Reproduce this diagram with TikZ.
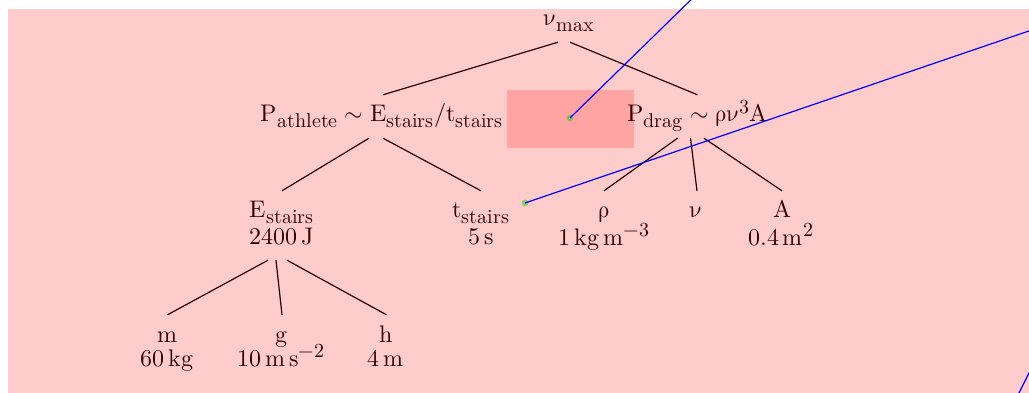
\documentclass[tikz,border=0pt]{standalone}
\usepackage[math-style=upright]{unicode-math}
\DeclareMathSizes{24}{24}{20}{16}
\usetikzlibrary{calc}

\definecolor{bgpink}{RGB}{255,204,204}
\definecolor{boxpink}{RGB}{255,163,163}
\definecolor{inkc}{RGB}{50,3,3}
\definecolor{edgec}{RGB}{40,0,0}
\definecolor{dotc}{RGB}{60,200,40}

\tikzset{
  lbl/.style={anchor=base, inner sep=0pt, text=inkc, font=\fontsize{24}{28}\selectfont},
  % a quantity with edges above and below it
  term/.style={lbl, text height=27pt, text depth=16pt},
  % a quantity name with its value set underneath
  qname/.style={lbl, text height=27pt, text depth=5pt},
  % the value line under a quantity name
  qval/.style={lbl, text height=12pt, text depth=16pt},
  edge/.style={draw=edgec, line width=1.2pt},
  probe/.style={circle, fill=dotc, fill opacity=0.55, inner sep=0pt, minimum size=7pt},
  ray/.style={draw=blue, line width=1.2pt}
}

\begin{document}
\begin{tikzpicture}[x=1pt, y=-1pt]
  \useasboundingbox (0,0) rectangle (1029,393);
  \clip (0,0) rectangle (1029,393);
  \fill[white] (0,0) rectangle (1029,393);
  \fill[bgpink] (8,9) rectangle (1029,393);
  \fill[boxpink] (507,90) rectangle (634,148);

  % quantities
  \node[term] (vmax) at (570,26) {$\nu_{max}$};
  \node[term] (Pa) at (382,122) {$P_{athlete} \sim E_{stairs}/t_{stairs}$};
  \node[term] (Pd) at (697.5,122) {$P_{drag} \sim \rho\nu^3 A$};
  \node[qname] (E) at (282,218) {$E_{stairs}$};
  \node[qval] (Ev) at (282,244) {$2400\,J$};
  \node[qname] (t) at (481,218) {$t_{stairs}$};
  \node[qval] (tv) at (481,244) {$5\,s$};
  \node[qname] (rho) at (604,218) {$\rho$};
  \node[qval] (rhov) at (604,245) {$1\,kg\,m^{-3}$};
  \node[term] (nu) at (697,218) {$\nu$};
  \node[qname] (A) at (782,218) {$A$};
  \node[qval] (Av) at (781,245) {$0.4\,m^{2}$};
  \node[qname] (m) at (167.5,342) {$m$};
  \node[qval] (mv) at (167.5,366) {$60\,kg$};
  \node[qname] (g) at (282,342) {$g$};
  \node[qval] (gv) at (281,366) {$10\,m\,s^{-2}$};
  \node[qname] (h) at (386.5,342) {$h$};
  \node[qval] (hv) at (385.5,366) {$4\,m$};

  % tree edges
  \draw[edge] ([xshift=-12pt]vmax.south) -- ([xshift=1pt]Pa.north);
  \draw[edge] (vmax.south) -- (Pd.north);
  \draw[edge] ([xshift=-13pt]Pa.south) -- (E.north);
  \draw[edge] ([xshift=1pt]Pa.south) -- (t.north);
  \draw[edge] ([xshift=-20pt]Pd.south) -- (rho.north);
  \draw[edge] ([xshift=-7pt]Pd.south) -- (nu.north);
  \draw[edge] ([xshift=6.5pt]Pd.south) -- (A.north);
  \draw[edge] ([xshift=-14pt]Ev.south) -- (m.north);
  \draw[edge] ([xshift=-6pt]Ev.south) -- (g.north);
  \draw[edge] ([xshift=5pt]Ev.south) -- (h.north);

  % probe markers and rays
  \node[probe] (p1) at (570,118) {};
  \node[probe] (p2) at (525,203) {};
  \coordinate (r1) at (703,-12);
  \coordinate (r2) at (1064,19);
  \coordinate (r3a) at (1012,407);
  \coordinate (r3b) at (1040,351);
  \draw[ray] (p1.center) -- (r1);
  \draw[ray] (p2.center) -- (r2);
  \draw[ray] (r3a) -- (r3b);
\end{tikzpicture}
\end{document}
